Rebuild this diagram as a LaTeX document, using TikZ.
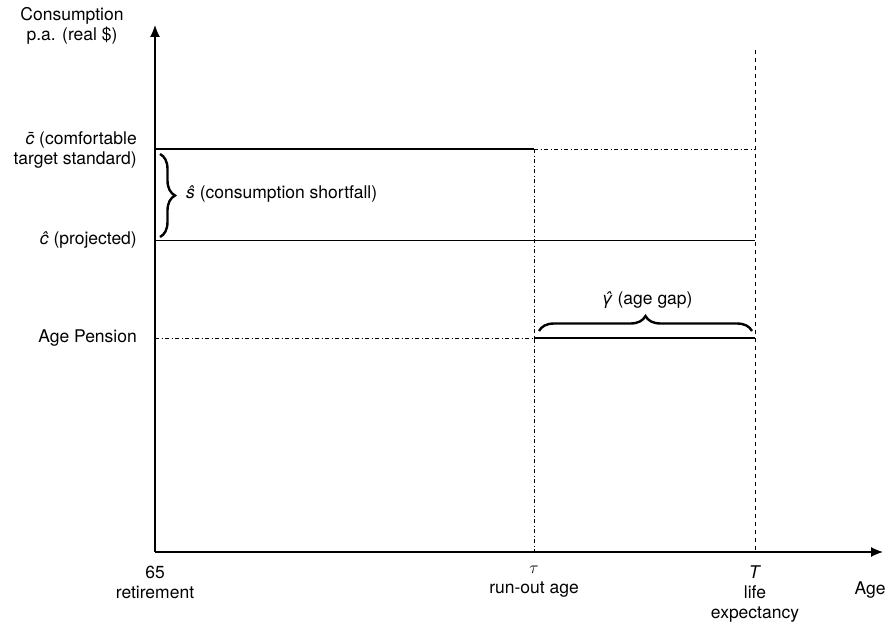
\documentclass[tikz,border=0pt]{standalone}
\usepackage{amsmath}
\usepackage{fontspec}
\setmainfont{TeX Gyre Heros}
\usetikzlibrary{arrows.meta}
\usetikzlibrary{decorations.pathreplacing}
\tikzstyle{axisline}=[line width=1.2pt, -{Latex[length=12pt,width=10pt]}]
\tikzstyle{flatline}=[line width=1pt]
\tikzstyle{heavyline}=[line width=2.4pt]
\tikzstyle{dashdotline}=[line width=0.9pt, dash pattern=on 4pt off 2.5pt on 1pt off 2.5pt]
\tikzstyle{guideline}=[line width=0.9pt, dash pattern=on 4pt off 4pt]
\tikzstyle{txt}=[inner sep=0pt, font=\fontsize{17.5}{20}\selectfont]
\tikzstyle{gapbrace}=[line width=2.4pt, decorate, decoration={brace, amplitude=15pt}]

\begin{document}
\begin{tikzpicture}[x=1pt, y=-1pt]
        \useasboundingbox (0, 0) rectangle (895, 626);
        % axes
        \coordinate (O) at (155, 552);
        \coordinate (Ytop) at (155, 25);
        \coordinate (Xend) at (883, 552);
        \draw[axisline] (O) -- (Ytop);
        \draw[axisline] (O) -- (Xend);
        % ages
        \coordinate (TauTop) at (534, 149);
        \coordinate (TauBot) at (534, 552);
        \coordinate (TTop) at (755, 50);
        \coordinate (TBot) at (755, 552);
        \coordinate (CbarL) at (155, 149);
        \coordinate (CbarR) at (755, 149);
        \coordinate (ChatL) at (155, 240);
        \coordinate (ChatR) at (755, 240);
        \coordinate (PenL) at (155, 338);
        \coordinate (PenM) at (534, 338);
        \coordinate (PenR) at (755, 338);
        \draw[dashdotline] (TauTop) -- (TauBot);
        \draw[guideline] (TTop) -- (TBot);
        % consumption levels
        \draw[heavyline] (CbarL) -- (TauTop);
        \draw[dashdotline] (TauTop) -- (CbarR);
        \draw[flatline] (ChatL) -- (ChatR);
        \draw[dashdotline] (PenL) -- (PenM);
        \draw[heavyline] (PenM) -- (PenR);
        % braces
        \coordinate (SA) at (160, 154);
        \coordinate (SB) at (160, 237);
        \coordinate (GA) at (539, 331);
        \coordinate (GB) at (752, 331);
        \draw[gapbrace] (SA) -- (SB);
        \draw[gapbrace] (GA) -- (GB);
        \node[txt, anchor=west] (shortfall) at (186, 194) {\textit{ŝ} (consumption shortfall)};
        \node[txt] (agegap) at (647, 300) {\textit{\^{γ}} (age gap)};
        % axis labels
        \node[txt, align=center] (ylab) at (72, 26) {Consumption\\p.a. (real \$)};
        \node[txt, align=right, anchor=east] (cbar) at (137, 150) {\textit{\=c} (comfortable\\target standard)};
        \node[txt, anchor=east] (chat) at (137, 240) {\textit{ĉ} (projected)};
        \node[txt, anchor=east] (pension) at (137, 338) {Age Pension};
        \node[txt, align=center, anchor=north] (retire) at (155, 566) {65\\retirement};
        \node[txt, align=center, anchor=north] (runout) at (534, 566) {$\tau$\\run-out age};
        \node[txt, align=center, anchor=north] (life) at (755, 566) {\textit{T}\\life\\expectancy};
        \node[txt] (age) at (870, 590) {Age};
    \end{tikzpicture}
\end{document}
